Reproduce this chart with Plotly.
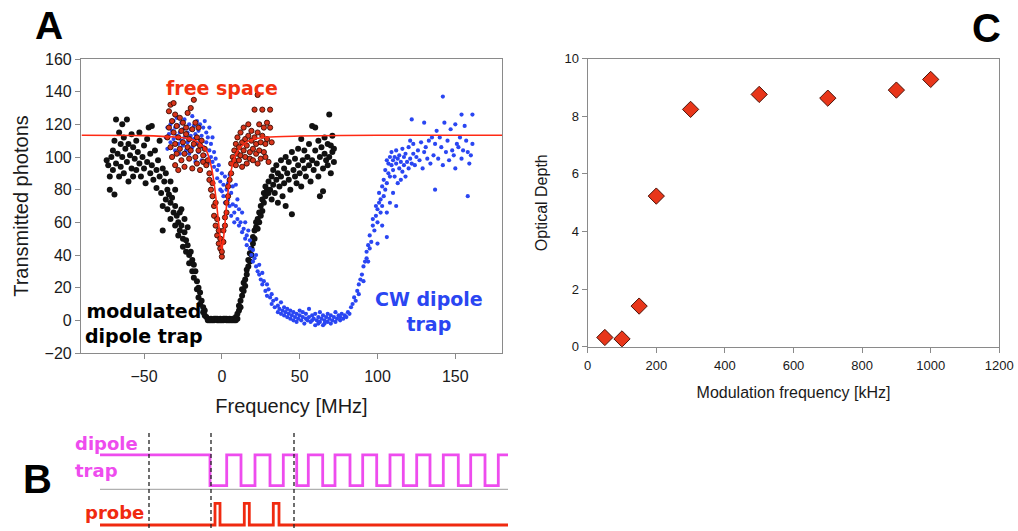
import plotly.graph_objects as go

# ---------------- Panel A data ----------------
modulated_trap = [
    (-74,98),(-73,95),(-72,88),(-72,80),(-71,100),(-70,104),(-70,92),(-69,77),(-69,110),(-68,123),
    (-68,96),(-67,102),(-66,115),(-66,88),(-65,108),(-65,94),(-64,120),(-64,100),(-63,90),(-63,112),
    (-62,105),(-61,123),(-61,97),(-60,85),(-60,108),(-59,101),(-58,93),(-58,114),(-57,106),(-57,88),
    (-56,99),(-55,110),(-55,92),(-54,103),(-53,96),(-53,115),(-52,88),(-51,100),(-50,107),(-50,93),
    (-49,84),(-48,111),(-48,97),(-47,118),(-46,102),(-46,90),(-45,119),(-45,95),(-44,86),(-43,104),
    (-42,92),(-42,81),(-41,98),(-40,88),(-40,110),(-39,78),(-38,93),(-38,70),(-38,55),(-36,90),
    (-33,85),(-30,80),(-26,68),(-24,62),(-22,57),
    (-37,85),(-36,74),(-35,80),(-35,68),(-34,77),(-33,72),(-33,62),(-32,75),(-31,66),(-30,70),
    (-30,58),(-29,64),(-28,60),(-28,52),(-27,66),(-27,55),(-26,58),(-25,50),(-25,45),(-24,54),
    (-23,49),(-23,42),(-22,46),(-21,40),(-21,35),(-20,42),(-19,37),(-19,30),(-18,34),(-18,26),
    (-17,30),(-16,24),(-16,19),(-15,20),(-15,14),(-14,17),(-14,10),(-13,12),(-12,8),(-12,5),
    (-11,6),(-11,3),(-10,2),
    (-9,1),(-8,0),(-7,1),(-6,0),(-5,0),(-4,1),(-3,0),(-2,0),(-1,1),(0,0),(1,0),(2,1),(3,0),(4,0),
    (5,1),(6,0),(7,1),(8,0),(9,2),(10,1),(-9,0),(-7,0),(-5,1),(-3,1),(-1,0),(1,1),(3,1),(5,0),
    (7,0),(9,0),
    (10,4),(11,6),(11,9),(12,12),(12,8),(13,15),(13,19),(14,18),(14,23),(15,25),(15,21),(16,28),
    (16,31),(17,33),(17,37),(18,36),(18,41),(19,44),(19,40),(20,47),(20,51),(21,50),(21,55),
    (22,57),(22,60),(23,62),(23,56),(24,66),(24,60),(25,70),(25,64),(26,74),(26,67),(27,72),
    (27,78),(28,82),(28,76),(29,80),(30,85),(30,78),
    (31,80),(32,88),(32,74),(33,92),(33,83),(34,78),(35,95),(35,86),(36,72),(36,90),(37,82),
    (38,98),(38,88),(39,76),(40,93),(40,84),(41,100),(41,70),(42,90),(43,86),(43,97),(44,80),
    (45,65),(45,103),(46,92),(47,88),(47,99),(48,84),(49,95),(49,105),(50,90),(51,111),(51,82),
    (52,98),(53,93),(53,104),(54,88),(55,100),(56,95),(56,108),(57,85),(58,119),(58,98),(59,92),
    (60,104),(60,118),(61,96),(62,88),(62,110),(63,76),(63,100),(64,106),(65,93),(65,79),
    (66,102),(66,112),(67,98),(68,95),(68,108),(69,126),(69,100),(70,107),(70,90),(71,103),
    (71,113),(72,97),(72,105),
]

cw_trap = [
    (-36,112),(-35,118),(-35,105),(-34,114),(-33,120),(-33,109),(-32,116),(-31,111),(-31,122),
    (-30,104),(-30,118),(-29,113),(-29,124),(-28,108),(-28,119),(-27,115),(-27,102),(-26,121),
    (-26,110),(-25,117),(-25,107),(-24,123),(-24,112),(-23,104),(-23,118),(-22,115),(-22,109),
    (-21,120),(-21,102),(-20,113),(-20,117),(-19,125),(-19,106),(-18,111),(-18,119),(-17,97),
    (-17,114),(-16,108),(-16,122),(-15,103),(-15,116),(-14,110),(-14,120),(-13,98),(-13,113),
    (-12,106),(-12,118),(-11,122),(-11,101),(-10,109),(-10,115),(-9,96),(-9,112),(-8,104),
    (-8,118),(-7,100),(-7,108),(-6,97),(-6,112),(-5,103),(-5,94),
    (-4,99),(-3,92),(-3,87),(-2,95),(-1,85),(-1,80),(0,90),(0,79),(1,83),(1,76),(2,88),(2,72),
    (3,80),(3,66),(4,84),(4,74),(5,89),(5,70),(6,78),(6,64),(7,71),(7,82),(8,66),(8,60),(9,83),
    (9,70),(10,62),(10,74),(11,68),(11,58),(12,60),(13,66),(13,54),(14,56),(15,50),(15,60),
    (16,52),(16,46),(17,55),(18,44),(18,49),(19,40),(20,43),(20,36),(21,38),(22,33),(22,40),
    (23,30),(24,28),(24,34),(25,25),(26,29),(26,22),(27,24),(28,18),(29,22),(29,15),(30,19),
    (31,14),(32,16),(32,10),(33,12),(34,8),(35,13),(36,9),(36,5),(37,7),(38,11),(38,4),(39,6),
    (40,3),(40,8),
    (41,5),(42,2),(42,7),(43,4),(44,1),(44,6),(45,3),(46,0),(46,5),(47,2),(48,4),(48,-1),(49,1),
    (50,3),(50,6),(51,0),(52,2),(52,5),(53,-2),(54,1),(54,4),(55,0),(56,2),(56,7),(57,-1),(58,3),
    (58,0),(59,1),(60,-3),(60,4),(61,0),(62,2),(62,-2),(63,5),(63,-1),(64,1),(65,-3),(65,3),
    (66,0),(66,-2),(67,2),(68,-1),(68,4),(69,1),(70,-2),(70,3),(71,0),(72,2),(73,-1),(73,5),
    (74,1),(75,3),(76,0),(76,2),(77,4),(78,1),(79,3),(80,2),(81,5),(82,4),
    (83,8),(84,10),(85,14),(86,12),(87,18),(88,22),(88,16),(89,25),(90,28),(91,24),(91,33),
    (92,36),(93,42),(93,38),(94,46),(94,36),(95,44),(95,52),(96,48),(97,58),(97,62),(98,55),
    (99,64),(99,70),(100,60),(100,47),(100,68),(101,72),(101,78),(102,66),(102,74),(103,82),
    (103,58),(103,70),(104,76),(104,86),(105,80),(105,92),(106,84),(106,66),(106,51),(106,98),
    (107,90),(107,96),(108,88),(108,72),(108,100),(110,78),(112,70),
    (109,95),(109,103),(110,92),(110,98),(111,100),(111,88),(112,96),(112,104),(113,84),(113,99),
    (114,93),(114,101),(115,86),(115,97),(116,105),(116,91),(117,95),(117,100),(118,88),
    (118,102),(119,97),(120,93),(120,106),(121,99),(121,110),(122,123),(122,96),(123,102),
    (123,108),(124,95),(125,100),(126,104),(127,98),(128,109),(129,93),(130,121),(130,103),
    (131,106),(132,99),(133,110),(134,96),(135,112),(136,101),(137,80),(137,108),(138,116),
    (139,99),(140,112),(141,106),(142,137),(142,95),(143,121),(144,103),(145,110),(146,98),
    (147,117),(148,104),(149,101),(150,120),(150,93),(151,108),(152,106),(153,112),(154,126),
    (154,99),(155,104),(156,119),(157,110),(158,103),(158,76),(159,96),(160,101),(161,126),
    (161,108),
]

free_space = [
    (-35,112),(-34,128),(-34,118),(-33,132),(-33,106),(-32,122),(-32,100),(-31,133),(-31,115),
    (-30,126),(-30,108),(-30,95),(-29,119),(-29,102),(-28,112),(-28,92),(-27,124),(-27,105),
    (-26,116),(-26,98),(-25,109),(-25,121),(-24,102),(-24,94),(-23,114),(-23,118),(-22,106),
    (-22,127),(-21,111),(-21,99),(-20,130),(-20,104),(-19,117),(-19,93),(-18,135),(-18,108),
    (-17,121),(-17,100),(-16,112),(-16,96),(-15,118),(-15,104),(-14,107),(-14,92),(-13,110),
    (-12,101),(-12,97),(-11,105),(-10,95),(-9,98),(-8,90),(-8,86),
    (-7,80),(-6,84),(-6,76),(-5,70),(-5,64),(-4,72),(-4,58),(-3,62),(-3,52),(-2,55),(-2,47),
    (-1,50),(-1,44),(0,39),(0,42),
    (1,48),(1,55),(2,58),(2,63),(3,66),(3,72),(4,76),(4,82),(5,86),(6,90),(6,96),(7,100),(8,98),
    (8,104),(9,95),(9,108),(10,102),(10,112),(11,98),(11,106),(12,115),(12,101),(13,109),
    (13,94),(14,104),(14,118),(15,100),(15,111),(16,107),(16,96),(17,113),(17,120),(18,103),
    (18,99),(19,110),(19,116),(20,105),(20,98),(21,129),(21,112),(22,102),(22,108),(23,115),
    (23,96),(23,138),(24,104),(24,120),(25,109),(25,99),(26,129),(26,113),(27,118),(27,103),
    (28,108),(28,100),(29,121),(29,111),(30,97),(31,129),(31,118),(32,109),
]

fit_x = [-90, -50, -30, -20, -15, -10, -7, -5, -3, -1.5, 0, 1.5, 3, 5, 7, 10, 15, 20, 30, 50, 100, 180]
fit_y = [113.3, 113.1, 112.2, 111.0, 108.8, 104.0, 95.0, 84.0, 68.0, 54.0, 43.0, 54.0, 70.0,
         86.0, 96.0, 103.5, 108.5, 110.8, 112.2, 112.9, 113.3, 113.3]

# ---------------- Panel C data ----------------
mod_freq_khz = [50, 100, 150, 200, 300, 500, 700, 900, 1000]
optical_depth = [0.32, 0.27, 1.41, 5.23, 8.24, 8.76, 8.63, 8.91, 9.28]

# ---------------- Panel B timing (arbitrary time units) ----------------
trap_drop = 110
trap_rises = [126.7, 155, 183.3, 208.3, 235, 262.7, 290, 316.7, 343.3, 370.7, 398.3]
trap_falls = [141, 170, 196.7, 222.7, 250, 276.7, 303.3, 330, 358.3, 385]
probe_pulses = [(115, 120), (144.3, 149.3), (173.3, 179)]
marker_times = [49, 111, 194]
t_end = 408
LV_PROBE_LO, LV_PROBE_HI, LV_BASE, LV_TRAP_LO, LV_TRAP_HI = 0.0, 1.0, 1.645, 1.81, 3.23

BLACK = "#111111"
BLUE = "#2a46f2"
RED = "#ff2a14"
MAGENTA = "#ee4cee"
AXC = "#8a8a8a"

fig = go.Figure()

fig.add_trace(go.Scatter(
    x=[p[0] for p in modulated_trap], y=[p[1] for p in modulated_trap], mode="markers",
    marker=dict(color=BLACK, size=6), xaxis="x", yaxis="y", name="modulated dipole trap",
    showlegend=False))
fig.add_trace(go.Scatter(
    x=[p[0] for p in cw_trap], y=[p[1] for p in cw_trap], mode="markers",
    marker=dict(color=BLUE, size=4.2), xaxis="x", yaxis="y", name="CW dipole trap",
    showlegend=False))
fig.add_trace(go.Scatter(
    x=[p[0] for p in free_space], y=[p[1] for p in free_space], mode="markers",
    marker=dict(color="#d8341a", size=5.2, line=dict(color="#3a0c04", width=0.9)),
    xaxis="x", yaxis="y", name="free space", showlegend=False))
fig.add_trace(go.Scatter(
    x=fit_x, y=fit_y, mode="lines", line=dict(color=RED, width=1.6, shape="spline", smoothing=0.6),
    xaxis="x", yaxis="y", name="fit", showlegend=False))

# Panel C
fig.add_trace(go.Scatter(
    x=mod_freq_khz, y=optical_depth, mode="markers",
    marker=dict(symbol="diamond", color="#e8361a", size=12.5, line=dict(color="#4a1208", width=1)),
    xaxis="x2", yaxis="y2", showlegend=False, name="Optical Depth"))

# Panel B timing diagram
tx = [0, trap_drop, trap_drop]
ty = [LV_TRAP_HI, LV_TRAP_HI, LV_TRAP_LO]
events = sorted([(t, "r") for t in trap_rises] + [(t, "f") for t in trap_falls])
for t, kind in events:
    if kind == "r":
        tx += [t, t]; ty += [LV_TRAP_LO, LV_TRAP_HI]
    else:
        tx += [t, t]; ty += [LV_TRAP_HI, LV_TRAP_LO]
tx.append(t_end); ty.append(ty[-1])
fig.add_trace(go.Scatter(x=[0, t_end], y=[LV_BASE, LV_BASE], mode="lines",
                         line=dict(color="#b0b0b0", width=1.2), xaxis="x3", yaxis="y3",
                         showlegend=False, hoverinfo="skip"))
fig.add_trace(go.Scatter(x=tx, y=ty, mode="lines", line=dict(color=MAGENTA, width=2.8),
                         xaxis="x3", yaxis="y3", showlegend=False, name="dipole trap"))
px_, py_ = [0], [LV_PROBE_LO]
for a, b in probe_pulses:
    px_ += [a, a, b, b]; py_ += [LV_PROBE_LO, LV_PROBE_HI, LV_PROBE_HI, LV_PROBE_LO]
px_.append(t_end); py_.append(LV_PROBE_LO)
fig.add_trace(go.Scatter(x=px_, y=py_, mode="lines", line=dict(color="#f02a10", width=2.8),
                         xaxis="x3", yaxis="y3", showlegend=False, name="probe"))
for t in marker_times:
    fig.add_trace(go.Scatter(x=[t, t], y=[4.24, -0.3], mode="lines",
                             line=dict(color="#222222", width=1.3, dash="4px,3px"),
                             xaxis="x3", yaxis="y3", showlegend=False, hoverinfo="skip"))

W, H = 1018, 531
def fx(p): return p / W
def fy(p): return 1 - p / H

axis_common = dict(showline=True, linecolor=AXC, linewidth=1.2, mirror=True, ticks="outside",
                   ticklen=5, tickcolor=AXC, showgrid=False, zeroline=False,
                   tickfont=dict(family="Liberation Sans, Arial", size=16, color="#1a1a1a"),
                   automargin=False)
axis_c = dict(axis_common)
axis_c["tickfont"] = dict(family="Liberation Sans, Arial", size=13, color="#1a1a1a")

fig.update_layout(
    width=W, height=H, margin=dict(l=0, r=0, t=0, b=0),
    paper_bgcolor="white", plot_bgcolor="white",
    xaxis=dict(axis_common, domain=[fx(81), fx(502)], range=[-90.5, 180], tickvals=[-50, 0, 50, 100, 150],
               ticklabelstandoff=4,
               title=dict(text="Frequency [MHz]", standoff=14,
                          font=dict(family="Liberation Sans, Arial", size=20, color="#1a1a1a")),
               anchor="y"),
    yaxis=dict(axis_common, domain=[fy(353), fy(59)], range=[-20, 160], dtick=20,
               title=dict(text="Transmitted photons", standoff=10,
                          font=dict(family="Liberation Sans, Arial", size=20, color="#1a1a1a")),
               anchor="x"),
    xaxis2=dict(axis_c, domain=[fx(587.7), fx(999.3)], range=[0, 1200], dtick=200,
                ticklabelstandoff=2,
                title=dict(text="Modulation frequency [kHz]", standoff=14,
                           font=dict(family="Liberation Sans, Arial", size=16, color="#1a1a1a")),
                anchor="y2"),
    yaxis2=dict(axis_c, domain=[fy(346.7), fy(58.7)], range=[0, 10], dtick=2,
                title=dict(text="Optical Depth", standoff=12,
                           font=dict(family="Liberation Sans, Arial", size=16, color="#1a1a1a")),
                anchor="x2"),
    xaxis3=dict(domain=[fx(100), fx(508)], range=[0, t_end], visible=False, anchor="y3"),
    yaxis3=dict(domain=[0, fy(431)], range=[-0.276, 4.33], visible=False, anchor="x3"),
)

ann = []
def label(text, x, y, size, color, family="Liberation Sans, Arial", xanchor="center", bold=True):
    ann.append(dict(text=(f"<b>{text}</b>" if bold else text), x=fx(x), y=fy(y), xref="paper",
                    yref="paper", showarrow=False, xanchor=xanchor, yanchor="middle",
                    font=dict(family=family, size=size, color=color), align="center"))

label("A", 49, 26, 39, "#000000")
label("B", 37, 479, 40, "#000000")
label("C", 986, 28, 40, "#000000")
label("free space", 222, 88, 19, "#f2300f", family="DejaVu Sans")
label("modulated<br>dipole trap", 144, 323, 19, "#000000", family="DejaVu Sans")
label("CW dipole<br>trap", 429, 311, 19, BLUE, family="DejaVu Sans")
label("dipole", 73, 443, 18, MAGENTA, family="DejaVu Sans", xanchor="left")
label("trap", 73, 470, 18, MAGENTA, family="DejaVu Sans", xanchor="left")
label("probe", 83, 512, 18, "#f02a10", family="DejaVu Sans", xanchor="left")
fig.update_layout(annotations=ann)

fig.write_html("out.html")
